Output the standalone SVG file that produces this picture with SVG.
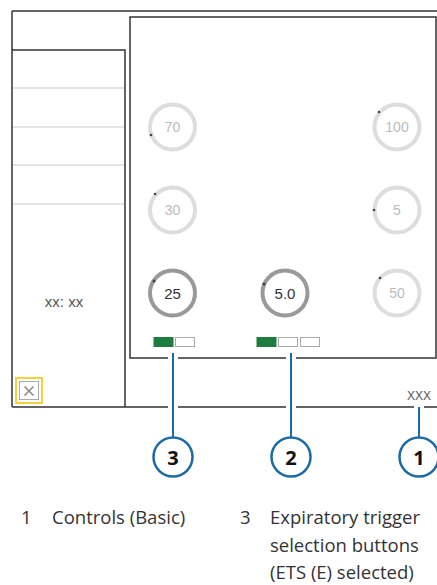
<svg xmlns="http://www.w3.org/2000/svg" width="437" height="585" viewBox="0 0 437 585">
<style>
.frame{fill:none;stroke:#333;stroke-width:1.5}
.sep{stroke:#ccc;stroke-width:1.2}
.dial{fill:#fff;stroke:#ddd;stroke-width:4}
.dial.on{stroke:#999}
.dot{fill:#444}
.dt{font-family:"Liberation Sans",Arial,sans-serif;font-size:14px;fill:#bbb;text-anchor:middle}
.dt.on{fill:#333;font-size:15px}
.btn{fill:#fff;stroke:#aaa;stroke-width:1}
.btn.sel{fill:#1e7d3e;stroke:#1e7d3e}
.lead{stroke:#1b6aa8;stroke-width:2;fill:none}
.call{fill:#fff;stroke:#1b6aa8;stroke-width:2.5}
.cn{font-family:"Open Sans","Noto Sans",sans-serif;font-weight:bold;font-size:20px;fill:#111;text-anchor:middle}
.leg{font-family:"Open Sans","Noto Sans",sans-serif;font-size:18.5px;fill:#333}
.small{font-family:"Liberation Sans",Arial,sans-serif;fill:#555}
</style>
<rect width="437" height="585" fill="#fff"/>
<g id="frame">
<path class="frame" d="M12 11H437M12 11V407M12 407H168M178 407H286M296 407H414M424 407H437"/>
</g>
<g id="left-panel">
<path class="frame" d="M12 50H125V407"/>
<line class="sep" x1="13" y1="88" x2="124" y2="88"/>
<line class="sep" x1="13" y1="127" x2="124" y2="127"/>
<line class="sep" x1="13" y1="165" x2="124" y2="165"/>
<line class="sep" x1="13" y1="204" x2="124" y2="204"/>
<text class="small" x="64" y="307" font-size="15" text-anchor="middle">xx: xx</text>
</g>
<g id="close-button">
<rect x="16" y="378" width="26" height="25" fill="none" stroke="#f3d33c" stroke-width="2"/>
<rect x="19.5" y="381.5" width="19" height="18" fill="#fff" stroke="#aaa" stroke-width="1"/>
<path d="M24.5 386.5L33.5 395.5M33.5 386.5L24.5 395.5" stroke="#888" stroke-width="1.5"/>
</g>
<g id="controls-panel">
<path class="frame" d="M168 358H130V17H436V358H296M286 358H178" stroke="#444"/>
</g>
<g id="dial-70"><circle class="dial" cx="172.5" cy="127" r="22.5"/><circle class="dot" cx="151" cy="135" r="1.3"/><text class="dt" x="172.5" y="132">70</text></g>
<g id="dial-100"><circle class="dial" cx="397" cy="127" r="22.5"/><circle class="dot" cx="379" cy="112" r="1.3"/><text class="dt" x="397" y="132">100</text></g>
<g id="dial-30"><circle class="dial" cx="172.5" cy="210" r="22.5"/><circle class="dot" cx="155" cy="194" r="1.3"/><text class="dt" x="172.5" y="215">30</text></g>
<g id="dial-5"><circle class="dial" cx="397" cy="210" r="22.5"/><circle class="dot" cx="374" cy="210" r="1.3"/><text class="dt" x="397" y="215">5</text></g>
<g id="dial-25"><circle class="dial on" cx="172.5" cy="293" r="22.5"/><circle class="dot" cx="154" cy="281" r="1.5"/><text class="dt on" x="172.5" y="298.5">25</text></g>
<g id="dial-5-0"><circle class="dial on" cx="285" cy="293" r="22.5"/><circle class="dot" cx="264" cy="284" r="1.5"/><text class="dt on" x="285" y="298.5">5.0</text></g>
<g id="dial-50"><circle class="dial" cx="397" cy="293" r="22.5"/><circle class="dot" cx="380" cy="278" r="1.3"/><text class="dt" x="397" y="298">50</text></g>
<g id="buttons-left">
<rect class="btn sel" x="154" y="337.5" width="19" height="9"/>
<rect class="btn" x="175.5" y="337.5" width="19" height="9"/>
</g>
<g id="buttons-mid">
<rect class="btn sel" x="257" y="337.5" width="19" height="9"/>
<rect class="btn" x="278.5" y="337.5" width="19" height="9"/>
<rect class="btn" x="300.5" y="337.5" width="19" height="9"/>
</g>
<text class="small" x="419" y="400" font-size="12" text-anchor="middle">XXX</text>
<g id="connectors">
<line class="lead" x1="173" y1="353" x2="173" y2="437"/>
<line class="lead" x1="291" y1="353" x2="291" y2="437"/>
<line class="lead" x1="419" y1="407" x2="419" y2="437"/>
</g>
<g id="callout-3"><circle class="call" cx="173" cy="457" r="19.5"/><text class="cn" x="173" y="464.5">3</text></g>
<g id="callout-2"><circle class="call" cx="291" cy="457" r="19.5"/><text class="cn" x="291" y="464.5">2</text></g>
<g id="callout-1"><circle class="call" cx="419" cy="457" r="19.5"/><text class="cn" x="419" y="464.5">1</text></g>
<g id="legend">
<text class="leg" x="21" y="524">1</text>
<text class="leg" x="52" y="524">Controls (Basic)</text>
<text class="leg" x="240" y="524">3</text>
<text class="leg" x="270" y="524">Expiratory trigger</text>
<text class="leg" x="270" y="552">selection buttons</text>
<text class="leg" x="270" y="579">(ETS (E) selected)</text>
</g>
</svg>
